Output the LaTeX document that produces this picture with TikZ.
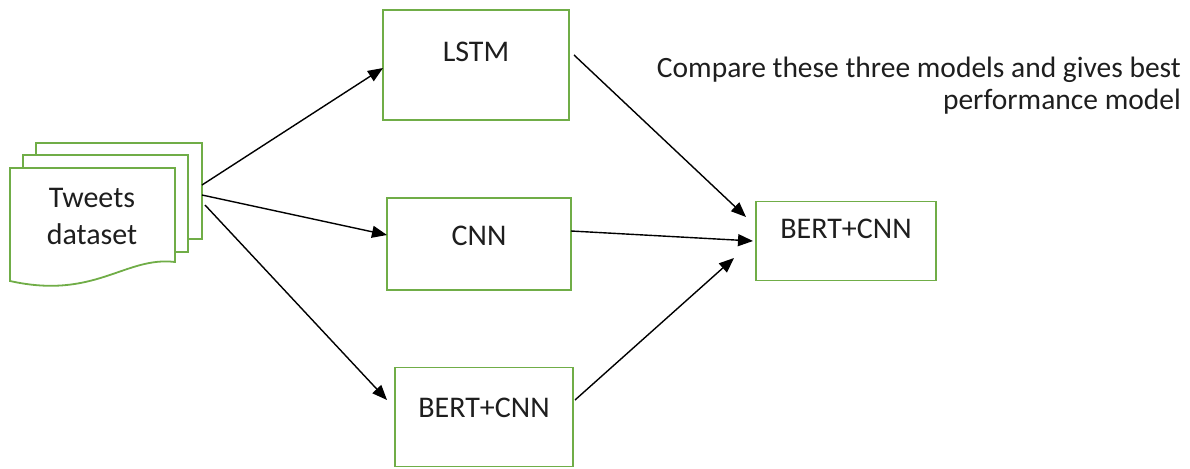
\documentclass[tikz,border=0pt]{standalone}
\usepackage{fontspec}
\setmainfont{Carlito}
\usetikzlibrary{arrows.meta}
\definecolor{boxgreen}{RGB}{112,173,71}
\definecolor{txt}{RGB}{30,30,30}
\tikzset{
  box/.style={draw=boxgreen, line width=1.8pt, fill=white, rectangle, inner sep=0pt},
  lbl/.style={font=\fontsize{30}{37}\selectfont, text=txt, inner sep=0pt},
  arr/.style={draw=black, line width=1.4pt, -{Triangle[length=15pt,width=12pt]}},
}
\begin{document}
\begin{tikzpicture}[x=1pt,y=-1pt]
\useasboundingbox (0,0) rectangle (1190,468);
% document stack
\path[box] (36,143) rectangle (202,239);
\path[box] (23,155) rectangle (188,252);
\path[box] (10,168) -- (175,168) -- (175,262) .. controls (125,256) and (95,300) .. (10,281) -- cycle;
\node[lbl, align=center] (doc) at (92,216) {Tweets\\dataset};
% model boxes
\node[box, minimum width=186pt, minimum height=110pt] (lstm) at (476,65) {};
\node[lbl] (lstmt) at (476,52) {LSTM};
\node[box, minimum width=184pt, minimum height=92pt] (cnn) at (479,244) {};
\node[lbl] (cnnt) at (479,236) {CNN};
\node[box, minimum width=178pt, minimum height=99pt] (bert) at (484,417) {};
\node[lbl] (bertt) at (484,408) {BERT+CNN};
\node[box, minimum width=180pt, minimum height=79pt] (best) at (846,241) {};
\node[lbl] (bestt) at (846,229) {BERT+CNN};
% annotation
\node[lbl, font=\fontsize{29.5}{32}\selectfont, align=right, anchor=north east] (note) at (1181,57) {Compare these three models and gives best\\performance model};
% coordinates
\coordinate (d1) at (202,185);
\coordinate (d2) at (202,195);
\coordinate (d3) at (205,205);
\coordinate (l1) at (383,68);
\coordinate (c1) at (387,235);
\coordinate (b1) at (387,400);
\coordinate (l2) at (574,55);
\coordinate (c2) at (571,231);
\coordinate (b2) at (575,400);
\coordinate (e1) at (746,217);
\coordinate (e2) at (753,241);
\coordinate (e3) at (734,258);
\draw[arr] (d1) -- (l1);
\draw[arr] (d2) -- (c1);
\draw[arr] (d3) -- (b1);
\draw[arr] (l2) -- (e1);
\draw[arr] (c2) -- (e2);
\draw[arr] (b2) -- (e3);
\end{tikzpicture}
\end{document}
